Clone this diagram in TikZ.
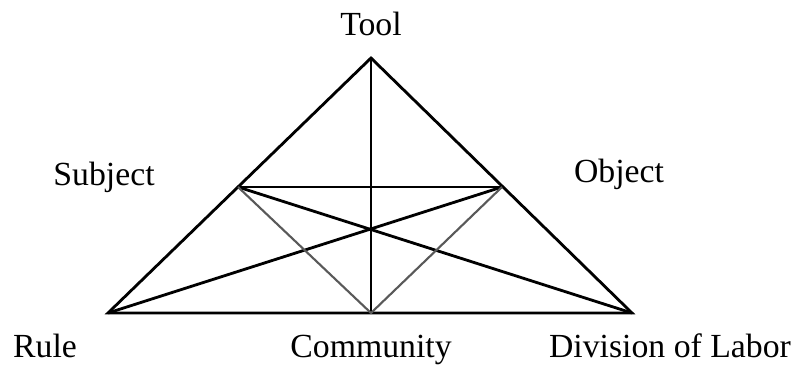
\documentclass[tikz,border=0pt]{standalone}
\usepackage{fontspec}
\setmainfont{Liberation Serif}
\tikzset{edge/.style={line width=2pt},inner/.style={line width=1.5pt,black!65},
  lbl/.style={anchor=base,inner sep=0pt,font=\fontsize{24}{28}\selectfont}}

\begin{document}
\begin{tikzpicture}[x=0.025cm,y=-0.025cm]
      \useasboundingbox (0,0) rectangle (793,367);
      \coordinate (tool) at (371,58); \coordinate (subj) at (238,187);
      \coordinate (obj) at (502,187); \coordinate (rule) at (108,313);
      \coordinate (comm) at (371,313); \coordinate (div) at (632,313);
      \draw[edge,line join=miter] (tool) -- (rule) -- (div) -- cycle;
      \draw[edge] (tool) -- (comm); \draw[edge] (subj) -- (obj);
      \draw[edge] (subj) -- (div); \draw[edge] (obj) -- (rule);
      % lighter pair down to the community
      \draw[inner] (subj) -- (comm) -- (obj);
      \node[lbl] (tooll) at (371,36) {Tool};
      \node[lbl] (subjl) at (104,185) {Subject};
      \node[lbl] (objl) at (619,182) {Object};
      \node[lbl] (rulel) at (45,357) {Rule};
      \node[lbl] (comml) at (371,357) {Community};
      \node[lbl] (divl) at (670,357) {Division of Labor};
    \end{tikzpicture}
\end{document}
